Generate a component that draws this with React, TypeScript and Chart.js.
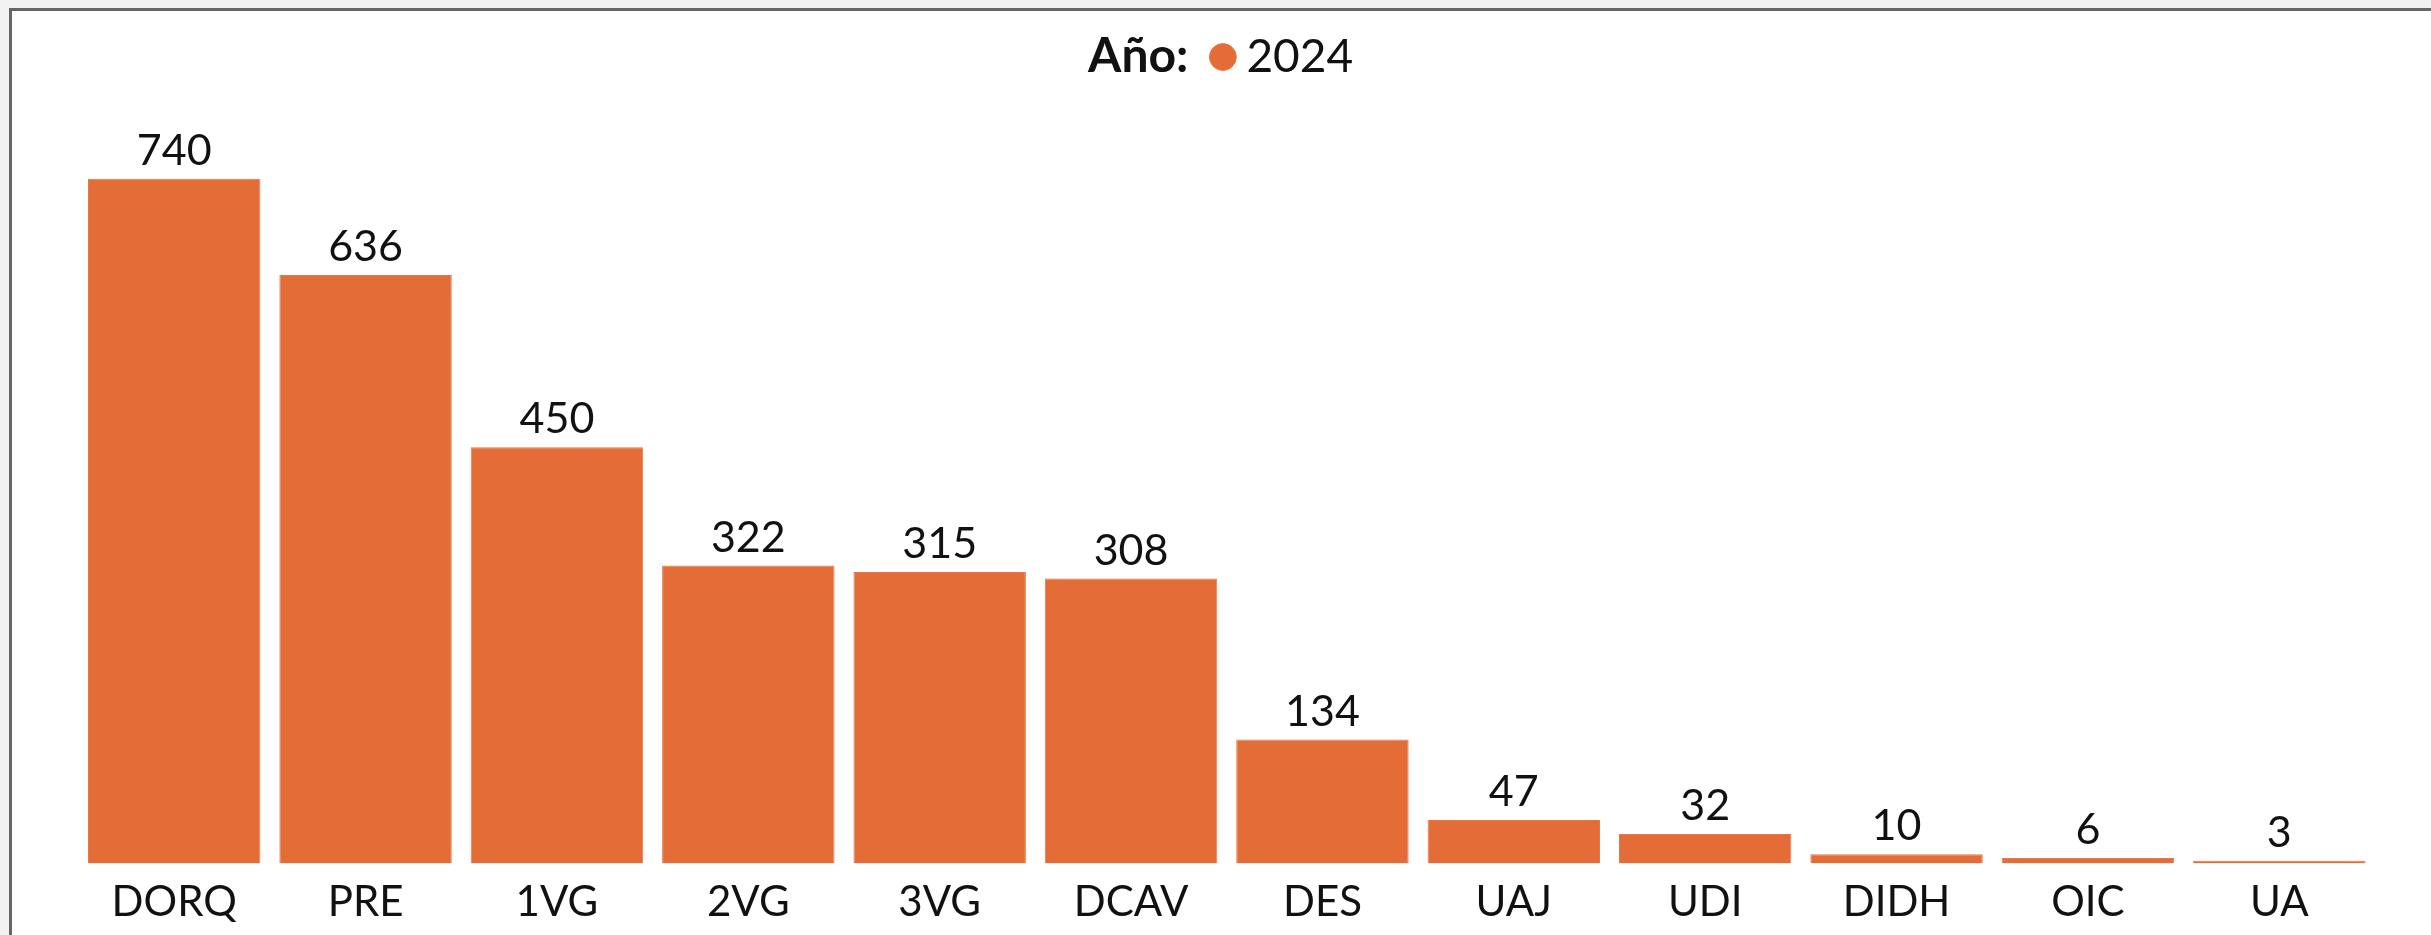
import React, { useEffect, useRef } from "react";
import { Chart, registerables } from "chart.js";

Chart.register(...registerables);

const categories = ["DORQ", "PRE", "1VG", "2VG", "3VG", "DCAV", "DES", "UAJ", "UDI", "DIDH", "OIC", "UA"];
const values2024 = [740, 636, 450, 322, 315, 308, 134, 47, 32, 10, 6, 3];
const seriesLabel = "2024";
const legendTitle = "Año:";

const BAR_COLOR = "#E46C37";
const FONT = "Lato, 'Open Sans', sans-serif";

const valueLabelsPlugin = {
  id: "valueLabels",
  afterDatasetsDraw(chart: any) {
    const ctx = chart.ctx;
    const meta = chart.getDatasetMeta(0);
    const data = chart.data.datasets[0].data;
    ctx.save();
    ctx.font = `43px ${FONT}`;
    ctx.fillStyle = "#111111";
    ctx.textAlign = "center";
    ctx.textBaseline = "alphabetic";
    meta.data.forEach((bar: any, i: number) => {
      ctx.fillText(String(data[i]), bar.x, bar.y - 14);
    });
    ctx.restore();
  },
};

const legendPrefixPlugin = {
  id: "legendPrefix",
  afterLayout(chart: any) {
    const lg = chart.legend;
    if (lg) {
      lg.left += 61;
      lg.right += 61;
    }
  },
  afterDraw(chart: any) {
    const lg = chart.legend;
    if (!lg || !lg.legendHitBoxes || !lg.legendHitBoxes.length) return;
    const hb = lg.legendHitBoxes[0];
    const ctx = chart.ctx;
    ctx.save();
    ctx.font = `bold 48px ${FONT}`;
    ctx.fillStyle = "#111111";
    ctx.textAlign = "right";
    ctx.textBaseline = "middle";
    ctx.fillText(legendTitle, hb.left - 34, hb.top + hb.height / 2);
    ctx.restore();
  },
};

export default function App() {
  const ref = useRef<HTMLCanvasElement | null>(null);

  useEffect(() => {
    if (!ref.current) return;
    const chart = new Chart(ref.current, {
      type: "bar",
      data: {
        labels: categories,
        datasets: [
          {
            label: seriesLabel,
            data: values2024,
            backgroundColor: BAR_COLOR,
            borderColor: "#E8784A",
            borderWidth: 1,
            categoryPercentage: 1,
            barPercentage: 0.901,
          },
        ],
      },
      options: {
        responsive: false,
        animation: false,
        devicePixelRatio: 1,
        layout: { padding: { left: 66.5, right: 56, top: 13, bottom: -6.9 } },
        plugins: {
          tooltip: { enabled: false },
          legend: {
            display: true,
            position: "top",
            align: "center",
            labels: {
              usePointStyle: true,
              pointStyle: "circle",
              boxWidth: 1,
              boxHeight: 19,
              padding: 10,
              color: "#111111",
              font: { family: FONT, size: 46 },
            },
          },
        },
        scales: {
          x: {
            grid: { display: false, drawTicks: false, tickLength: 0 },
            border: { display: false },
            ticks: { color: "#111111", padding: 14, font: { family: FONT, size: 42 }, maxRotation: 0, autoSkip: false },
          },
          y: { display: false, min: 0, max: 836 },
        },
      },
      plugins: [valueLabelsPlugin, legendPrefixPlugin],
    });
    return () => chart.destroy();
  }, []);

  return (
    <div style={{ position: "absolute", left: 0, top: 0, width: 2431, height: 935, background: "#f2f2f2", overflow: "hidden" }}>
      <div
        style={{
          position: "absolute",
          left: 9,
          top: 8,
          width: 2440,
          height: 940,
          borderTop: "3px solid #666666",
          borderLeft: "3px solid #666666",
          background: "#ffffff",
        }}
      >
        <canvas ref={ref} width={2419} height={924} style={{ display: "block", width: 2419, height: 924 }} />
      </div>
    </div>
  );
}
